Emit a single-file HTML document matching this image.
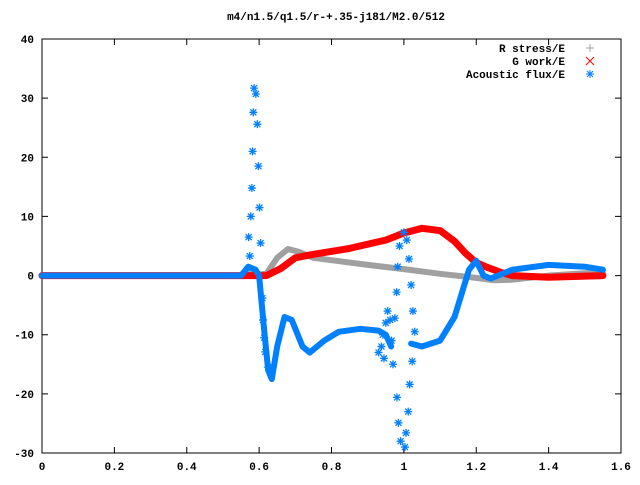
<!DOCTYPE html>
<html><head><meta charset="utf-8"><style>
body{margin:0;background:#fff}
svg text{font-family:"Liberation Mono",monospace;font-weight:bold;font-size:11px;fill:#000}
</style></head><body>
<svg id="c" width="640" height="480" xmlns="http://www.w3.org/2000/svg">
<text x="336" y="20" text-anchor="middle">m4/n1.5/q1.5/r-+.35-j181/M2.0/512</text>
<g id="axes"></g>
<g id="series"></g>
<g id="legend">
<text x="565" y="52" text-anchor="end">R stress/E</text>
<text x="565" y="65" text-anchor="end">G work/E</text>
<text x="565" y="78" text-anchor="end">Acoustic flux/E</text>
<path d="M586 48h8M590 44v8" stroke="#a0a0a0"/>
<path d="M586 57l8 8M594 57l-8 8" stroke="#ff0000"/>
<path d="M586 74h8M590 70v8M587 71l6 6M593 71l-6 6" stroke="#0080ff"/>
</g>
</svg>
<script>
const xTicks=[0,0.2,0.4,0.6,0.8,1,1.2,1.4,1.6];
const yTicks=[-30,-20,-10,0,10,20,30,40];
const rStressX=[0,0.55,0.565,0.58,0.6,0.62,0.65,0.68,0.71,0.75,0.8,0.9,1.0,1.1,1.2,1.25,1.3,1.4,1.5,1.55];
const rStressY=[0,0,0.8,1.2,0.2,0.3,3,4.5,4,3,2.6,1.8,1.1,0.3,-0.4,-0.8,-0.7,0,0.4,0.5];
const gWorkX=[0,0.55,0.62,0.66,0.7,0.75,0.85,0.95,1.0,1.05,1.1,1.14,1.17,1.2,1.23,1.27,1.3,1.4,1.55];
const gWorkY=[0,0,0,1.2,3,3.6,4.6,6,7.2,8,7.6,5.8,3.8,2.2,1.4,0.5,0,-0.3,0];
const fluxX=[0,0.55,0.57,0.59,0.6,0.615,0.625,0.635,0.65,0.67,0.69,0.72,0.74,0.78,0.82,0.88,0.93,0.95,0.965];
const fluxY=[0,0,1.5,1,0,-10,-16,-17.5,-12,-7,-7.5,-12,-13,-11,-9.5,-9,-9.3,-10,-12];
const flux2X=[1.02,1.05,1.1,1.14,1.16,1.18,1.2,1.22,1.24,1.3,1.4,1.5,1.55];
const flux2Y=[-11.5,-12,-11,-7,-3,1,2.5,0,-0.5,1,1.8,1.5,1];
const fluxSparseX=[0.586,0.591,0.584,0.595,0.582,0.598,0.58,0.601,0.577,0.571,0.604,0.574,0.609,0.611,0.614,0.617,0.625,
 1.0,1.008,0.988,1.014,0.983,1.02,0.98,1.025,0.975,1.03,1.023,1.016,0.981,1.012,0.985,1.006,0.991,1.003,
 0.95,0.955,0.942,0.962,0.938,0.966,0.945,0.97,0.93];
const fluxSparseY=[31.7,30.7,27.6,25.6,21,18.5,14.8,11.5,10,6.5,5.5,3.3,-3.8,-7.5,-10.5,-12.9,-15.5,
 7.3,6,5,2.8,1.5,-1.6,-2.8,-6,-7.2,-9.5,-14.5,-18.4,-20.6,-23,-24.9,-26.6,-28,-29,
 -8,-6,-10,-7.5,-12,-11,-14,-15,-13];
const L=42,R=621,T=39,B=453;
const X=v=>L+(v-0)/1.6*(R-L);
const Y=v=>T+(40-v)/70*(B-T);
const NS='http://www.w3.org/2000/svg';
const ax=document.getElementById('axes'),sr=document.getElementById('series');
function mk(tag,attrs,parent){const e=document.createElementNS(NS,tag);for(const k in attrs)e.setAttribute(k,attrs[k]);parent.appendChild(e);return e;}
const frame=mk('rect',{x:L,y:T,width:R-L,height:B-T,fill:'none',stroke:'#000'},ax);


xTicks.forEach(t=>{
 const p=mk('path',{d:`M${X(t)} ${B}v-6M${X(t)} ${T}v6`,stroke:'#000'},ax);
 
 
 const tx=mk('text',{x:X(t),y:B+17,'text-anchor':'middle'},ax);tx.textContent=String(t);
 
 
});
yTicks.forEach(t=>{
 const p=mk('path',{d:`M${L} ${Y(t)}h6M${R} ${Y(t)}h-6`,stroke:'#000'},ax);
 
 
 const tx=mk('text',{x:L-8,y:Y(t)+4,'text-anchor':'end'},ax);tx.textContent=String(t);
 
 
});
function line(xs,ys,color,w,name){
 const d=xs.map((x,i)=>(i?'L':'M')+X(x).toFixed(1)+' '+Y(ys[i]).toFixed(1)).join('');
 const p=mk('path',{d,fill:'none',stroke:color,'stroke-width':w,'stroke-linejoin':'round','stroke-linecap':'round'},sr);
 
 
}
line(rStressX,rStressY,'#a0a0a0',6,'r-stress-series');
line(gWorkX,gWorkY,'#ff0000',7,'g-work-series');
line(fluxX,fluxY,'#0080ff',6,'acoustic-flux-series');
line(flux2X,flux2Y,'#0080ff',6,'acoustic-flux-series-2');
fluxSparseX.forEach((x,i)=>{
 const cx=X(x),cy=Y(fluxSparseY[i]);
 const p=mk('path',{d:`M${cx-4} ${cy}h8M${cx} ${cy-4}v8M${cx-3} ${cy-3}l6 6M${cx+3} ${cy-3}l-6 6`,stroke:'#0080ff','stroke-width':1.3},sr);
 
 
});
</script>
</body></html>
